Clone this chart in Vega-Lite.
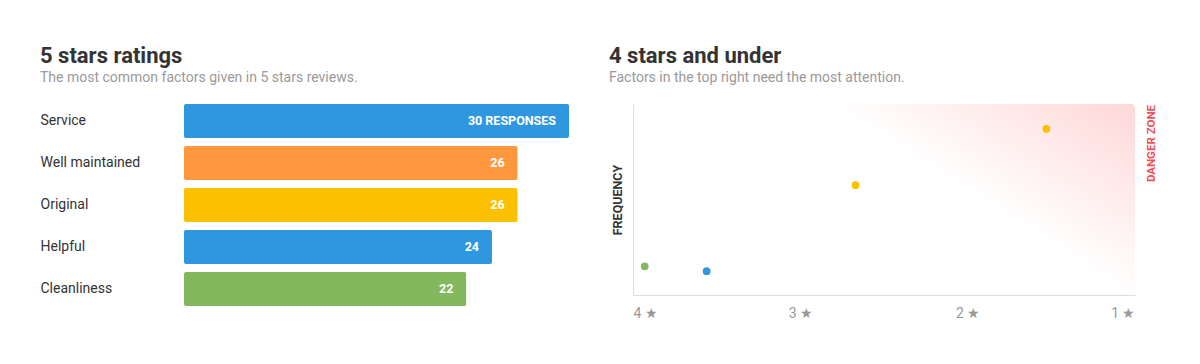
{
  "$schema": "https://vega.github.io/schema/vega-lite/v6.json",
  "padding": {"left": 40, "top": 45, "right": 0, "bottom": 0},
  "background": "white",
  "spacing": 40,
  "resolve": {"scale": {"color": "independent"}},
  "config": {
    "view": {"stroke": null},
    "font": "Roboto",
    "title": {"anchor": "start", "fontSize": 22, "fontWeight": "bold", "color": "#333333", "font": "Roboto", "subtitleFont": "Roboto", "subtitleFontSize": 14, "subtitleColor": "#9a9a9a", "subtitlePadding": 3, "offset": 18}
  },
  "hconcat": [
    {
      "title": {"text": "5 stars ratings", "subtitle": "The most common factors given in 5 stars reviews."},
      "width": 385,
      "height": 202,
      "data": {"values": [
        {"factor": "Service", "count": 30, "label": "30 RESPONSES"},
        {"factor": "Well maintained", "count": 26, "label": "26"},
        {"factor": "Original", "count": 26, "label": "26"},
        {"factor": "Helpful", "count": 24, "label": "24"},
        {"factor": "Cleanliness", "count": 22, "label": "22"}
      ]},
      "encoding": {
        "y": {"field": "factor", "type": "nominal", "sort": null,
          "scale": {"paddingInner": 0.19, "paddingOuter": 0},
          "axis": {"title": null, "domain": false, "ticks": false, "labelAlign": "left", "labelPadding": 144, "labelFontSize": 14, "labelColor": "#333333", "labelFont": "Roboto"}},
        "x": {"field": "count", "type": "quantitative", "scale": {"domain": [0, 30]}, "axis": null}
      },
      "layer": [
        {"mark": {"type": "bar", "cornerRadius": 2},
         "encoding": {"color": {"field": "factor", "type": "nominal", "legend": null,
           "scale": {"domain": ["Service", "Well maintained", "Original", "Helpful", "Cleanliness"], "range": ["#2f97df", "#ff973e", "#fcc000", "#2f97df", "#84b85e"]}}}},
        {"mark": {"type": "text", "align": "right", "baseline": "middle", "dx": -13, "color": "#ffffff", "fontWeight": "bold", "fontSize": 12.5, "font": "Roboto"},
         "encoding": {"text": {"field": "label"}}}
      ]
    },
    {
      "title": {"text": "4 stars and under", "subtitle": "Factors in the top right need the most attention.", "dx": -2},
      "width": 502,
      "height": 191,
      "layer": [
        {
          "data": {"values": [{"zone": "danger"}]},
          "mark": {"type": "rect", "cornerRadiusTopRight": 4,
            "fill": {"gradient": "linear", "x1": 1, "y1": 0, "x2": 0.55, "y2": 0.27,
              "stops": [{"offset": 0, "color": "#ffd7d7"}, {"offset": 1, "color": "#ffffff"}]}},
          "encoding": {
            "x": {"datum": 4, "type": "quantitative", "scale": {"domain": [1, 4], "reverse": true}},
            "x2": {"datum": 1},
            "y": {"datum": 0, "type": "quantitative", "scale": {"domain": [0, 100]}},
            "y2": {"datum": 100}
          }
        },
        {
          "data": {"values": [
            {"factor": "Cleanliness", "rating": 3.93, "frequency": 15},
            {"factor": "Helpful", "rating": 3.56, "frequency": 12.5},
            {"factor": "Original", "rating": 2.67, "frequency": 57.5},
            {"factor": "Value", "rating": 1.53, "frequency": 87}
          ]},
          "mark": {"type": "point", "filled": true, "opacity": 1, "size": 60},
          "encoding": {
            "x": {"field": "rating", "type": "quantitative", "scale": {"domain": [1, 4], "reverse": true},
              "axis": {"title": null, "values": [4, 3, 2, 1], "labelExpr": "datum.value + ' ★'", "labelFlush": true, "grid": false, "ticks": false, "domainColor": "#dddddd", "labelColor": "#999999", "labelFontSize": 14, "labelPadding": 11, "labelFont": "Roboto", "zindex": 1}},
            "y": {"field": "frequency", "type": "quantitative", "scale": {"domain": [0, 100]},
              "axis": {"title": "FREQUENCY", "labels": false, "ticks": false, "grid": false, "domainColor": "#dddddd", "titleFontSize": 12.5, "titleFontWeight": "bold", "titleColor": "#333333", "titlePadding": 9, "titleFont": "Roboto", "zindex": 1}},
            "color": {"field": "factor", "type": "nominal", "legend": null,
              "scale": {"domain": ["Cleanliness", "Helpful", "Original", "Value"], "range": ["#84b85e", "#2f97df", "#fcc000", "#fcc000"]}}
          }
        },
        {
          "data": {"values": [{"zone": "DANGER ZONE"}]},
          "mark": {"type": "text", "angle": 270, "align": "right", "baseline": "middle", "dy": 17, "dx": -1, "color": "#f0505a", "fontWeight": "bold", "fontSize": 11.5, "font": "Roboto"},
          "encoding": {
            "x": {"datum": 1, "type": "quantitative"},
            "y": {"datum": 100, "type": "quantitative"},
            "text": {"field": "zone"}
          }
        }
      ]
    }
  ]
}
